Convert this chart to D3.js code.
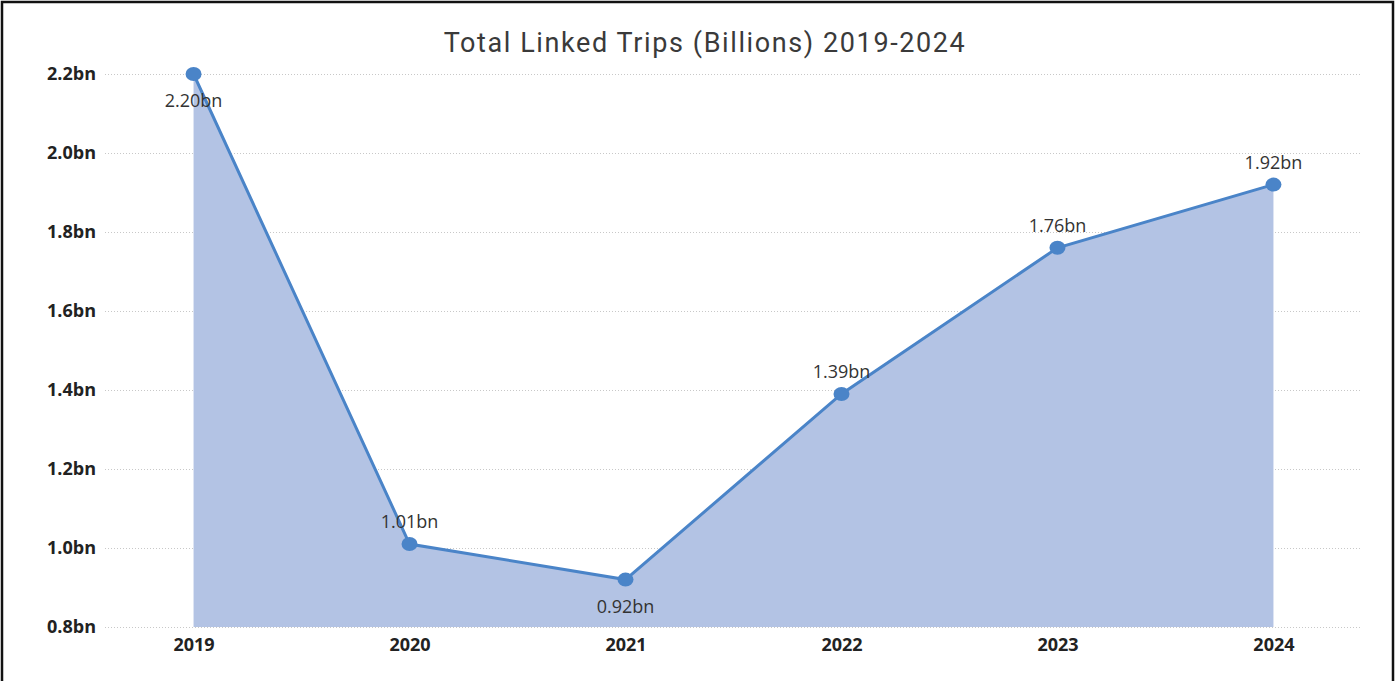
<!DOCTYPE html>
<html>
<head>
<meta charset="utf-8">
<script src="https://cdn.jsdelivr.net/npm/d3@7"></script>
<style>
  html, body { margin: 0; padding: 0; background: #fff; }
  svg { display: block; }
</style>
</head>
<body>
<div id="chart"></div>
<script>
const WIDTH = 1395;
const HEIGHT = 681;

// --------------- data ---------------
const years = ["2019", "2020", "2021", "2022", "2023", "2024"];
const trips = [2.20, 1.01, 0.92, 1.39, 1.76, 1.92];
const labelBelow = [true, false, true, false, false, false];
const yTicks = [0.8, 1.0, 1.2, 1.4, 1.6, 1.8, 2.0, 2.2];

const FILL = "#b3c3e4";
const LINE = "#4a84c8";

const svg = d3.select("#chart")
  .append("svg")
  .attr("width", WIDTH)
  .attr("height", HEIGHT);

// outer frame (no bottom edge in the original)
svg.append("path")
  .attr("d", `M2,${HEIGHT} V2 H1393 V${HEIGHT}`)
  .attr("fill", "none")
  .attr("stroke", "#111")
  .attr("stroke-width", 2.5);

// --------------- scales ---------------
const x = d3.scalePoint()
  .domain(years)
  .range([105, 1362])
  .padding(0.41);

const y = d3.scaleLinear()
  .domain([0.8, 2.2])
  .range([627, 74]);

// title
svg.append("text")
  .attr("x", 705)
  .attr("y", 52)
  .attr("text-anchor", "middle")
  .style("font-family", "Roboto, 'Open Sans', sans-serif")
  .style("font-size", "27px")
  .style("letter-spacing", "1.6px")
  .style("fill", "#3a3a3a")
  .text("Total Linked Trips (Billions) 2019-2024");

// --------------- y axis (dotted grid) ---------------
const yAxis = d3.axisLeft(y)
  .tickValues(yTicks)
  .tickSize(-(1362 - 105))
  .tickPadding(9)
  .tickFormat(d => d.toFixed(1) + "bn");

const gy = svg.append("g")
  .attr("transform", "translate(105,0)")
  .call(yAxis);
gy.select(".domain").remove();
gy.selectAll(".tick line")
  .attr("stroke", "#c8c8c8")
  .attr("stroke-width", 1)
  .attr("stroke-dasharray", "1,2");
gy.selectAll(".tick text")
  .style("font-family", "'Open Sans', sans-serif")
  .style("font-weight", "bold")
  .style("font-size", "18px")
  .style("fill", "#222");

// --------------- x axis ---------------
const gx = svg.append("g")
  .attr("transform", "translate(0,627)")
  .call(d3.axisBottom(x).tickSize(0).tickPadding(11));
gx.select(".domain").remove();
gx.selectAll(".tick text")
  .style("font-family", "'Open Sans', sans-serif")
  .style("font-weight", "bold")
  .style("font-size", "18px")
  .style("fill", "#222");

// --------------- area + line ---------------
const series = years.map((yr, i) => ({ year: yr, value: trips[i], below: labelBelow[i] }));

const area = d3.area()
  .x(d => x(d.year))
  .y0(y(0.8))
  .y1(d => y(d.value));

const line = d3.line()
  .x(d => x(d.year))
  .y(d => y(d.value));

svg.append("path")
  .datum(series)
  .attr("d", area)
  .attr("fill", FILL);

svg.append("path")
  .datum(series)
  .attr("d", line)
  .attr("fill", "none")
  .attr("stroke", LINE)
  .attr("stroke-width", 3);

svg.append("g")
  .selectAll("ellipse")
  .data(series)
  .enter()
  .append("ellipse")
  .attr("cx", d => x(d.year))
  .attr("cy", d => y(d.value))
  .attr("rx", 8)
  .attr("ry", 7)
  .attr("fill", LINE);

// data labels
svg.append("g")
  .selectAll("text")
  .data(series)
  .enter()
  .append("text")
  .attr("x", d => x(d.year))
  .attr("y", d => y(d.value) + (d.below ? 33 : -16))
  .attr("text-anchor", "middle")
  .style("font-family", "'Open Sans', sans-serif")
  .style("font-size", "18px")
  .style("fill", "#333")
  .text(d => d.value.toFixed(2) + "bn");
</script>
</body>
</html>
